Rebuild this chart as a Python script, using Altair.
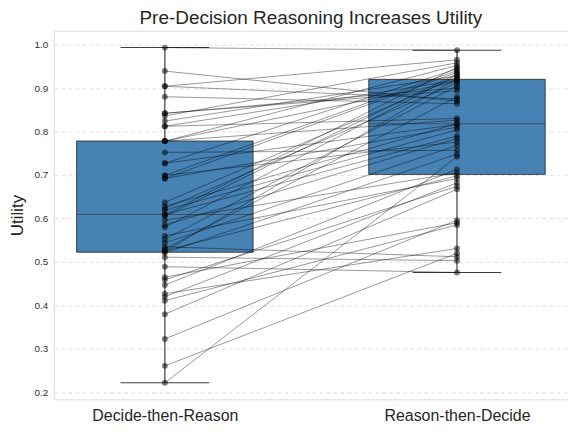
import altair as alt
import pandas as pd

conditions = ["Decide-then-Reason", "Reason-then-Decide"]

decide_then_reason = [
    0.222, 0.261, 0.323, 0.380, 0.411, 0.420, 0.427, 0.447, 0.459, 0.465,
    0.489, 0.511, 0.521, 0.524, 0.526, 0.530, 0.535, 0.544, 0.552, 0.560,
    0.580, 0.585, 0.596, 0.605, 0.609, 0.609, 0.619, 0.623, 0.628, 0.637,
    0.692, 0.692, 0.699, 0.699, 0.727, 0.727, 0.752, 0.778, 0.778, 0.778,
    0.812, 0.812, 0.824, 0.836, 0.842, 0.842, 0.880, 0.904, 0.904, 0.939,
    0.993,
]
reason_then_decide = [
    0.742, 0.520, 0.596, 0.667, 0.585, 0.682, 0.531, 0.713, 0.674, 0.590,
    0.476, 0.503, 0.748, 0.922, 0.698, 0.880, 0.512, 0.768, 0.905, 0.692,
    0.930, 0.784, 0.705, 0.933, 0.790, 0.948, 0.804, 0.912, 0.818, 0.925,
    0.810, 0.936, 0.776, 0.940, 0.816, 0.944, 0.757, 0.915, 0.826, 0.952,
    0.830, 0.918, 0.928, 0.958, 0.894, 0.900, 0.864, 0.965, 0.875, 0.870,
    0.987,
]

rows = []
for i, (a, b) in enumerate(zip(decide_then_reason, reason_then_decide)):
    rows.append({"pair": i, "condition": conditions[0], "utility": a})
    rows.append({"pair": i, "condition": conditions[1], "utility": b})
df = pd.DataFrame(rows)

FONT = "Liberation Sans"

x_enc = alt.X(
    "condition:N",
    sort=conditions,
    scale=alt.Scale(type="point", padding=0.38),
    axis=alt.Axis(title=None, labelFontSize=16, labelColor="#262626",
                  labelPadding=8, ticks=False, domain=False, grid=False,
                  labelAngle=0, labelFont=FONT),
)
y_enc = alt.Y(
    "utility:Q",
    scale=alt.Scale(domain=[0.184, 1.032], nice=False, zero=False),
    axis=alt.Axis(title="Utility", titleFontSize=17, titleFontWeight="normal",
                  titleColor="#262626", titleFont=FONT, titlePadding=8,
                  labelFontSize=10, labelColor="#333333", labelFont=FONT,
                  values=[0.2, 0.3, 0.4, 0.5, 0.6, 0.7, 0.8, 0.9, 1.0],
                  format=".1f", ticks=False, domain=False,
                  grid=True, gridColor="#d9d9d9", gridDash=[4, 3],
                  gridWidth=0.8, labelPadding=6),
)

base = alt.Chart(df)

box = base.mark_boxplot(
    extent="min-max",
    size=177,
    box={"color": "#4682b4", "stroke": "#3d3d3d", "strokeWidth": 1},
    median={"color": "#3d3d3d", "strokeWidth": 1},
    rule={"color": "#3d3d3d", "strokeWidth": 1.2},
    ticks={"color": "#3d3d3d", "size": 89, "strokeWidth": 1.2},
    outliers=False,
).encode(x=x_enc, y=y_enc)

lines = base.mark_line(color="black", opacity=0.5, strokeWidth=0.8).encode(
    x=x_enc, y=y_enc, detail="pair:N"
)

points = base.mark_circle(color="black", opacity=0.5, size=36).encode(
    x=x_enc, y=y_enc
)

chart = (
    alt.layer(box, lines, points)
    .properties(
        width=516,
        height=370,
        title=alt.Title("Pre-Decision Reasoning Increases Utility",
                        fontSize=19, fontWeight="normal", color="#262626",
                        font=FONT, offset=3),
    )
    .configure_view(stroke="#cccccc", strokeWidth=1)
    .configure(background="white", padding={"left": 0, "top": 0, "right": 0, "bottom": 0})
)

chart.save("out.html", embed_options={"renderer": "svg", "actions": False})
